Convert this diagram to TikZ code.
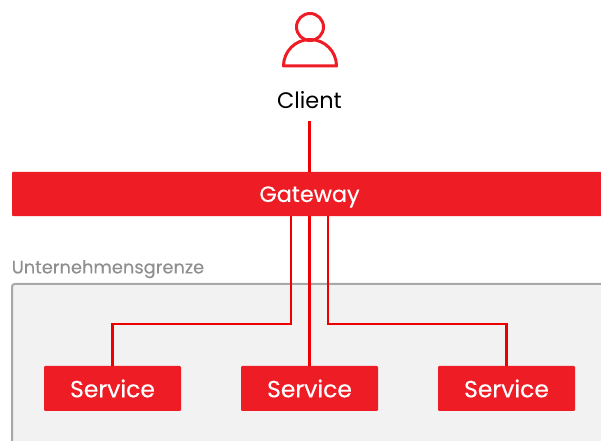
\documentclass[tikz,border=0pt]{standalone}
\usepackage{fontspec}
\setmainfont{Poppins}
\newfontfamily\boldish[FakeBold=0.25]{Poppins}
\definecolor{rhred}{HTML}{EE1C25}
\definecolor{wire}{HTML}{EE0000}
\definecolor{zonefill}{HTML}{F2F2F2}
\definecolor{zoneline}{HTML}{A8A8A8}
\definecolor{zonetext}{HTML}{8F8F8F}
\tikzset{
  px/.style={x=0.75pt,y=-0.75pt},
  redbox/.style={fill=rhred,draw=none,rounded corners=0.8pt,text=white,inner sep=0pt,font=\boldish\fontsize{17.6}{20}\selectfont},
  servicebox/.style={redbox,minimum width=102.75pt,minimum height=33.75pt},
  wireline/.style={draw=wire,line width=2.25pt*0.75},
  iconline/.style={draw=rhred,line width=3pt*0.75,line join=round}
}
\begin{document}
\begin{tikzpicture}[px]
\clip (0,0) rectangle (601,441);
\draw[fill=zonefill,draw=zoneline,line width=1.5pt,rounded corners=2pt] (12,284) rectangle (640,480);
\node[anchor=south west,inner sep=0pt,text=zonetext,font=\boldish\fontsize{13.4}{15}\selectfont] (zone) at (11.5,278.5) {Unternehmensgrenze};
\draw[iconline] (310,27) circle (13.5);
\draw[iconline] (283.5,66) arc[start angle=180,end angle=360,radius=26.5] -- cycle;
\node[inner sep=0pt,text=black,font=\fontsize{16.8}{20}\selectfont] (client) at (309.5,100) {Client};
\node[redbox,minimum width=620*0.75pt,minimum height=33.25pt] (gateway) at (322,194) {};
\node[text=white,inner sep=0pt,font=\boldish\fontsize{16.7}{20}\selectfont] (gwlabel) at (309.5,197) {Gateway};
\node[servicebox] (s1) at (112.5,388.5) {Service};
\node[servicebox] (s2) at (309.5,388.5) {Service};
\node[servicebox] (s3) at (506.5,388.5) {Service};
\coordinate (clientfoot) at (309.5,121);
\draw[wireline] (clientfoot) -- (clientfoot |- gateway.north);
\draw[wireline,line join=miter] (s1.north) -- ++(0,-42) -| ([xshift=-18.5*0.75pt]gateway.south -| s2.north);
\draw[wireline] (s2.north) -- (s2.north |- gateway.south);
\draw[wireline,line join=miter] (s3.north) -- ++(0,-42) -| ([xshift=18.5*0.75pt]gateway.south -| s2.north);
\end{tikzpicture}
\end{document}
